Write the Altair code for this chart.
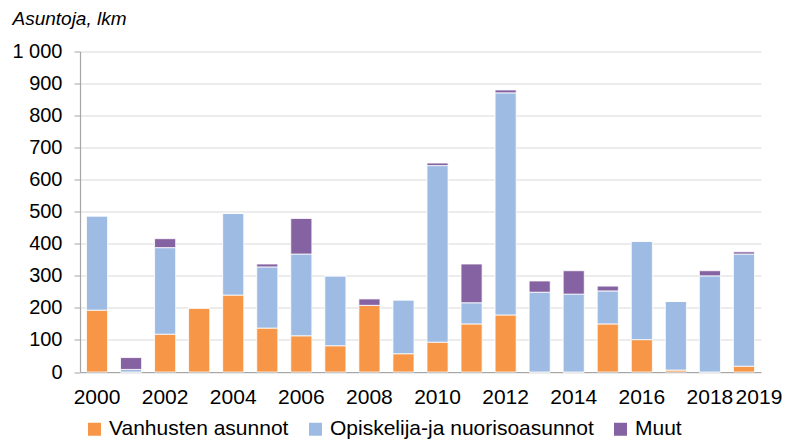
import altair as alt
import pandas as pd

years = [str(y) for y in range(2000, 2020)]
vanhusten = [193, 0, 118, 200, 240, 137, 113, 82, 208, 57, 93, 150, 178, 0, 0, 150, 101, 6, 0, 18]
opiskelija = [294, 8, 270, 0, 255, 191, 255, 218, 0, 168, 551, 66, 693, 249, 243, 103, 307, 214, 300, 350]
muut = [0, 37, 28, 0, 0, 9, 111, 0, 20, 0, 8, 121, 9, 35, 73, 15, 0, 0, 16, 7]

series = ["Vanhusten asunnot", "Opiskelija-ja nuorisoasunnot", "Muut"]
colors = ["#F79646", "#9EBCE3", "#8562A1"]

rows = []
for i, y in enumerate(years):
    for k, (name, vals) in enumerate(zip(series, [vanhusten, opiskelija, muut])):
        rows.append({"Vuosi": y, "Sarja": name, "Arvo": vals[i], "Jarjestys": k})
df = pd.DataFrame(rows)

font = "Liberation Sans"

chart = alt.Chart(df).mark_bar(stroke="white", strokeWidth=0.8).encode(
    x=alt.X("Vuosi:N", sort=years,
            scale=alt.Scale(paddingInner=0.38, paddingOuter=0.19),
            axis=alt.Axis(title=None, labelAngle=0, ticks=False,
                          labelExpr="(+datum.value % 2 == 0 || datum.value == '2019') ? datum.value : ''",
                          labelOffset={"condition": {"test": "datum.value == '2019'", "value": 15}, "value": 0},
                          labelFontSize=21, labelFont=font, labelColor="#000000",
                          labelPadding=14, domainColor="#A6A6A6", domainWidth=1.2, labelOverlap=False)),
    y=alt.Y("Arvo:Q", stack="zero",
            scale=alt.Scale(domain=[0, 1000], nice=False),
            axis=alt.Axis(values=list(range(0, 1001, 100)),
                          labelExpr="datum.value == 1000 ? '1 000' : datum.label",
                          title="Asuntoja, lkm", titleAngle=0, titleAlign="left",
                          titleBaseline="middle", titleX=-68, titleY=-33,
                          titleFont=font, titleFontSize=19, titleFontStyle="italic",
                          titleFontWeight="normal", titleColor="#000000",
                          labelFontSize=20, labelFont=font, labelColor="#000000",
                          labelPadding=12, tickSize=6, tickColor="#A6A6A6",
                          domainColor="#A6A6A6", domainWidth=1.2,
                          gridColor="#D9D9D9", gridWidth=1.2)),
    color=alt.Color("Sarja:N", sort=series,
                    scale=alt.Scale(domain=series, range=colors),
                    legend=alt.Legend(title=None, orient="none", direction="horizontal",
                                      legendX=4, legendY=367, symbolType="square",
                                      symbolSize=169, symbolStrokeWidth=0,
                                      labelFontSize=21, labelFont=font, labelColor="#000000",
                                      labelLimit=0, columnPadding=16, labelOffset=4)),
    order=alt.Order("Jarjestys:Q", sort="ascending"),
).properties(
    width=681, height=320.5,
    autosize=alt.AutoSizeParams(type="none"),
    padding={"left": 72, "top": 43.5, "right": 21, "bottom": 68},
).configure_view(stroke=None)

chart.save("out.html", embed_options={"renderer": "svg", "actions": False})
